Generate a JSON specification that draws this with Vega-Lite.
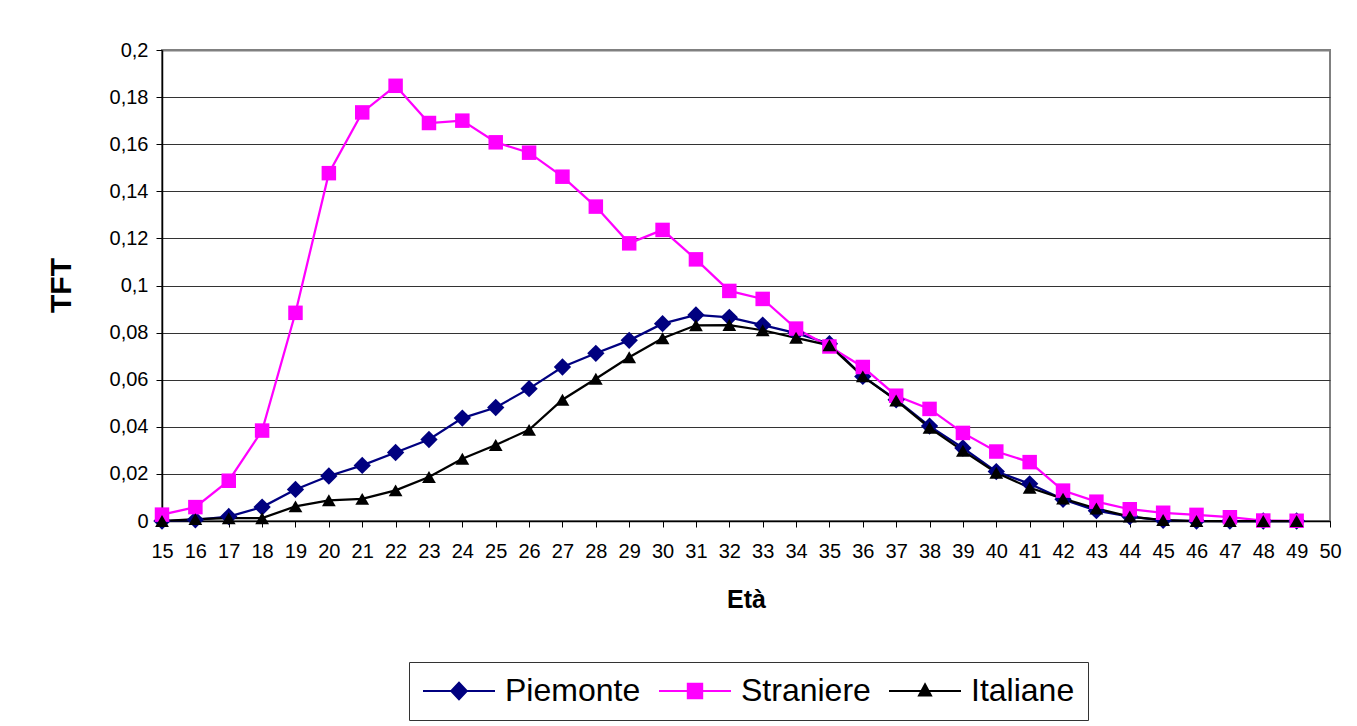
{
  "$schema": "https://vega.github.io/schema/vega-lite/v6.json",
  "autosize": {"type": "none"},
  "padding": {"left": 162, "top": 50, "right": 27, "bottom": 205},
  "width": 1168,
  "height": 471,
  "background": "white",
  "config": {
    "font": "Liberation Sans",
    "view": {"stroke": "#808080", "strokeWidth": 2}
  },
  "data": {
    "values": [
      {"serie": "Piemonte", "eta": 15, "tft": 0.0},
      {"serie": "Piemonte", "eta": 16, "tft": 0.0005},
      {"serie": "Piemonte", "eta": 17, "tft": 0.0019},
      {"serie": "Piemonte", "eta": 18, "tft": 0.0059},
      {"serie": "Piemonte", "eta": 19, "tft": 0.0134},
      {"serie": "Piemonte", "eta": 20, "tft": 0.0191},
      {"serie": "Piemonte", "eta": 21, "tft": 0.0236},
      {"serie": "Piemonte", "eta": 22, "tft": 0.0291},
      {"serie": "Piemonte", "eta": 23, "tft": 0.0346},
      {"serie": "Piemonte", "eta": 24, "tft": 0.0437},
      {"serie": "Piemonte", "eta": 25, "tft": 0.0482},
      {"serie": "Piemonte", "eta": 26, "tft": 0.0562},
      {"serie": "Piemonte", "eta": 27, "tft": 0.0654},
      {"serie": "Piemonte", "eta": 28, "tft": 0.0712},
      {"serie": "Piemonte", "eta": 29, "tft": 0.0767},
      {"serie": "Piemonte", "eta": 30, "tft": 0.0838},
      {"serie": "Piemonte", "eta": 31, "tft": 0.0875},
      {"serie": "Piemonte", "eta": 32, "tft": 0.0865},
      {"serie": "Piemonte", "eta": 33, "tft": 0.0832},
      {"serie": "Piemonte", "eta": 34, "tft": 0.0798},
      {"serie": "Piemonte", "eta": 35, "tft": 0.0753},
      {"serie": "Piemonte", "eta": 36, "tft": 0.0614},
      {"serie": "Piemonte", "eta": 37, "tft": 0.0515},
      {"serie": "Piemonte", "eta": 38, "tft": 0.0403},
      {"serie": "Piemonte", "eta": 39, "tft": 0.031},
      {"serie": "Piemonte", "eta": 40, "tft": 0.021},
      {"serie": "Piemonte", "eta": 41, "tft": 0.0158},
      {"serie": "Piemonte", "eta": 42, "tft": 0.0092},
      {"serie": "Piemonte", "eta": 43, "tft": 0.0044},
      {"serie": "Piemonte", "eta": 44, "tft": 0.0019},
      {"serie": "Piemonte", "eta": 45, "tft": 0.0003},
      {"serie": "Piemonte", "eta": 46, "tft": 0.0},
      {"serie": "Piemonte", "eta": 47, "tft": 0.0},
      {"serie": "Piemonte", "eta": 48, "tft": 0.0},
      {"serie": "Piemonte", "eta": 49, "tft": 0.0},
      {"serie": "Straniere", "eta": 15, "tft": 0.0027},
      {"serie": "Straniere", "eta": 16, "tft": 0.0059},
      {"serie": "Straniere", "eta": 17, "tft": 0.0171},
      {"serie": "Straniere", "eta": 18, "tft": 0.0384},
      {"serie": "Straniere", "eta": 19, "tft": 0.0884},
      {"serie": "Straniere", "eta": 20, "tft": 0.1477},
      {"serie": "Straniere", "eta": 21, "tft": 0.1735},
      {"serie": "Straniere", "eta": 22, "tft": 0.1848},
      {"serie": "Straniere", "eta": 23, "tft": 0.169},
      {"serie": "Straniere", "eta": 24, "tft": 0.170},
      {"serie": "Straniere", "eta": 25, "tft": 0.1608},
      {"serie": "Straniere", "eta": 26, "tft": 0.1564},
      {"serie": "Straniere", "eta": 27, "tft": 0.1462},
      {"serie": "Straniere", "eta": 28, "tft": 0.1335},
      {"serie": "Straniere", "eta": 29, "tft": 0.1179},
      {"serie": "Straniere", "eta": 30, "tft": 0.1236},
      {"serie": "Straniere", "eta": 31, "tft": 0.1111},
      {"serie": "Straniere", "eta": 32, "tft": 0.0977},
      {"serie": "Straniere", "eta": 33, "tft": 0.0943},
      {"serie": "Straniere", "eta": 34, "tft": 0.0817},
      {"serie": "Straniere", "eta": 35, "tft": 0.0741},
      {"serie": "Straniere", "eta": 36, "tft": 0.0654},
      {"serie": "Straniere", "eta": 37, "tft": 0.0532},
      {"serie": "Straniere", "eta": 38, "tft": 0.0476},
      {"serie": "Straniere", "eta": 39, "tft": 0.0374},
      {"serie": "Straniere", "eta": 40, "tft": 0.0295},
      {"serie": "Straniere", "eta": 41, "tft": 0.025},
      {"serie": "Straniere", "eta": 42, "tft": 0.0129},
      {"serie": "Straniere", "eta": 43, "tft": 0.0082},
      {"serie": "Straniere", "eta": 44, "tft": 0.005},
      {"serie": "Straniere", "eta": 45, "tft": 0.0035},
      {"serie": "Straniere", "eta": 46, "tft": 0.0026},
      {"serie": "Straniere", "eta": 47, "tft": 0.0016},
      {"serie": "Straniere", "eta": 48, "tft": 0.0002},
      {"serie": "Straniere", "eta": 49, "tft": 0.0001},
      {"serie": "Italiane", "eta": 15, "tft": 0.0},
      {"serie": "Italiane", "eta": 16, "tft": 0.0008},
      {"serie": "Italiane", "eta": 17, "tft": 0.0012},
      {"serie": "Italiane", "eta": 18, "tft": 0.0012},
      {"serie": "Italiane", "eta": 19, "tft": 0.0062},
      {"serie": "Italiane", "eta": 20, "tft": 0.0088},
      {"serie": "Italiane", "eta": 21, "tft": 0.0094},
      {"serie": "Italiane", "eta": 22, "tft": 0.013},
      {"serie": "Italiane", "eta": 23, "tft": 0.0187},
      {"serie": "Italiane", "eta": 24, "tft": 0.0264},
      {"serie": "Italiane", "eta": 25, "tft": 0.0323},
      {"serie": "Italiane", "eta": 26, "tft": 0.0387},
      {"serie": "Italiane", "eta": 27, "tft": 0.0515},
      {"serie": "Italiane", "eta": 28, "tft": 0.0604},
      {"serie": "Italiane", "eta": 29, "tft": 0.0695},
      {"serie": "Italiane", "eta": 30, "tft": 0.0776},
      {"serie": "Italiane", "eta": 31, "tft": 0.0831},
      {"serie": "Italiane", "eta": 32, "tft": 0.0832},
      {"serie": "Italiane", "eta": 33, "tft": 0.081},
      {"serie": "Italiane", "eta": 34, "tft": 0.0778},
      {"serie": "Italiane", "eta": 35, "tft": 0.0746},
      {"serie": "Italiane", "eta": 36, "tft": 0.0614},
      {"serie": "Italiane", "eta": 37, "tft": 0.0512},
      {"serie": "Italiane", "eta": 38, "tft": 0.0396},
      {"serie": "Italiane", "eta": 39, "tft": 0.0298},
      {"serie": "Italiane", "eta": 40, "tft": 0.0205},
      {"serie": "Italiane", "eta": 41, "tft": 0.0141},
      {"serie": "Italiane", "eta": 42, "tft": 0.0095},
      {"serie": "Italiane", "eta": 43, "tft": 0.0053},
      {"serie": "Italiane", "eta": 44, "tft": 0.0019},
      {"serie": "Italiane", "eta": 45, "tft": 0.0004},
      {"serie": "Italiane", "eta": 46, "tft": 0.0},
      {"serie": "Italiane", "eta": 47, "tft": 0.0},
      {"serie": "Italiane", "eta": 48, "tft": 0.0},
      {"serie": "Italiane", "eta": 49, "tft": 0.0}
    ]
  },
  "encoding": {
    "x": {
      "field": "eta",
      "type": "quantitative",
      "scale": {"domain": [15, 50], "nice": false, "zero": false},
      "axis": {
        "title": "Età",
        "values": [15,16,17,18,19,20,21,22,23,24,25,26,27,28,29,30,31,32,33,34,35,36,37,38,39,40,41,42,43,44,45,46,47,48,49,50],
        "format": "d",
        "grid": false,
        "labelOverlap": false,
        "labelFlush": false,
        "labelFontSize": 20,
        "labelColor": "#000000",
        "labelPadding": 14,
        "tickSize": 6,
        "tickColor": "#000000",
        "tickWidth": 1,
        "domainColor": "#000000",
        "domainWidth": 1.5,
        "titleFontSize": 25,
        "titleFontWeight": "bold",
        "titleColor": "#000000",
        "titleBaseline": "top",
        "titleY": 66
      }
    },
    "y": {
      "field": "tft",
      "type": "quantitative",
      "scale": {"domain": [0, 0.2], "nice": false, "zero": true},
      "axis": {
        "title": "TFT",
        "values": [0, 0.02, 0.04, 0.06, 0.08, 0.1, 0.12, 0.14, 0.16, 0.18, 0.2],
        "labelExpr": "replace(format(datum.value, '.2~f'), '.', ',')",
        "grid": true,
        "gridColor": {"condition": {"test": "datum.value >= 0.199", "value": "#808080"}, "value": "#333333"},
        "gridWidth": {"condition": {"test": "datum.value >= 0.199", "value": 2}, "value": 1},
        "labelFontSize": 20,
        "labelColor": "#000000",
        "labelPadding": 8,
        "labelOverlap": false,
        "tickSize": 6,
        "tickColor": "#000000",
        "domainColor": "#000000",
        "domainWidth": 1.5,
        "titleFontSize": 30,
        "titleFontWeight": "bold",
        "titleColor": "#000000",
        "titleX": -86,
        "titleY": 235
      }
    }
  },
  "layer": [
    {
      "mark": {"type": "line", "strokeWidth": 2.25},
      "encoding": {
        "color": {
          "field": "serie",
          "type": "nominal",
          "scale": {"domain": ["Piemonte", "Straniere", "Italiane"], "range": ["#000080", "#FF00FF", "#000000"]},
          "legend": {
            "title": null,
            "orient": "none",
            "legendX": 247,
            "legendY": 612,
            "direction": "horizontal",
            "columns": 3,
            "columnPadding": 14,
            "padding": 13,
            "strokeColor": "#333333",
            "fillColor": "#ffffff",
            "labelFontSize": 32,
            "labelColor": "#000000",
            "labelOffset": 51,
            "symbolSize": 900,
            "symbolStrokeWidth": 2,
            "symbolOpacity": 1,
            "encode": {
              "symbols": {
                "update": {
                  "shape": {"signal": "datum.value == 'Piemonte' ? 'M-1,0H3.8M1.4,-0.55L1.92,0L1.4,0.55L0.88,0Z' : datum.value == 'Straniere' ? 'M-1,0H3.8M0.92,-0.48H1.88V0.48H0.92Z' : 'M-1,0H3.8M1.4,-0.45L1.8,0.3H1.0Z'"},
                  "fill": {"signal": "datum.value == 'Piemonte' ? '#000080' : datum.value == 'Straniere' ? '#FF00FF' : '#000000'"},
                  "size": {"value": 900}
                }
              }
            }
          }
        }
      }
    },
    {
      "transform": [{"filter": "datum.serie == 'Piemonte'"}],
      "mark": {"type": "point", "filled": true, "opacity": 1, "shape": "diamond", "size": 300, "color": "#000080"}
    },
    {
      "transform": [{"filter": "datum.serie == 'Straniere'"}],
      "mark": {"type": "point", "filled": true, "opacity": 1, "shape": "square", "size": 210, "color": "#FF00FF"}
    },
    {
      "transform": [{"filter": "datum.serie == 'Italiane'"}],
      "mark": {"type": "point", "filled": true, "opacity": 1, "shape": "triangle-up", "size": 190, "color": "#000000"}
    }
  ]
}
